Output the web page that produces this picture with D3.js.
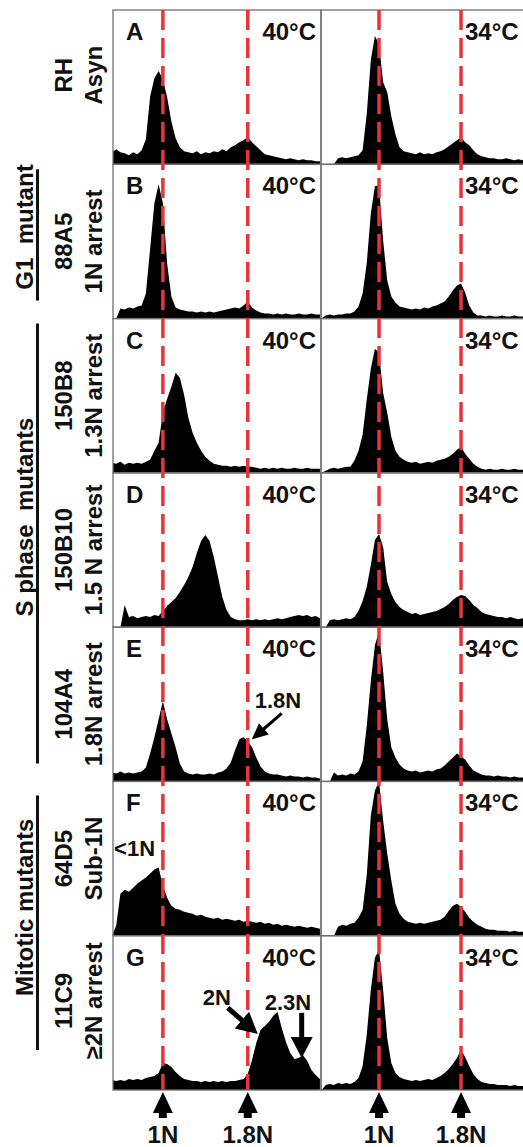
<!DOCTYPE html>
<html>
<head>
<meta charset="utf-8">
<script src="https://cdn.jsdelivr.net/npm/d3@7"></script>
<style>
  body { margin: 0; background: #fff; }
  text { font-family: "Liberation Sans", Arial, sans-serif; font-weight: bold; fill: #111; }
</style>
</head>
<body>
<script>
// row / column categories
var rows = ["A", "B", "C", "D", "E", "F", "G"];
var strains = ["RH", "88A5", "150B8", "150B10", "104A4", "64D5", "11C9"];
var arrests = ["Asyn", "1N arrest", "1.3N arrest", "1.5 N arrest", "1.8N arrest", "Sub-1N", "\u22652N arrest"];
var groupNames = ["G1  mutant", "S phase  mutants", "Mitotic mutants"];
var groupFirst = ["B", "C", "F"];
var groupLast = ["B", "E", "G"];
var temps = ["40\u00b0C", "34\u00b0C"];
var markN = [1, 1.8];
var markLabels = ["1N", "1.8N"];

// histogram bins: DNA content (N) of first bin, bin width
var binStart = [0.52, 0.44];
var binStep = 0.04;

// 40°C column (cell counts per bin)
var histA40 = [12,15,12,11,9,12,10,14,25,68,86,93,85,67,43,26,17,13,12,11,13,10,12,11,13,12,15,13,17,19,22,24,27,22,18,14,10,9,8,7,6,5,6,5,4,5,4,4,3,3];
var histB40 = [0,0,10,9,11,10,12,13,25,70,115,134,115,55,22,11,9,8,7,7,6,7,6,7,6,7,8,9,10,11,10,13,17,11,8,6,5,5,4,5,4,5,4,4,5,4,4,5,4,4];
var histC40 = [10,9,11,8,10,9,10,9,11,13,22,30,60,74,86,100,95,78,55,40,30,22,16,12,9,8,7,7,6,7,6,7,6,6,5,4,5,4,5,4,5,4,4,5,4,4,5,4,4,4];
var histD40 = [0,0,0,22,10,11,9,10,11,10,12,11,16,21,25,29,35,42,50,60,74,86,92,86,70,50,30,17,10,8,7,7,8,7,8,7,8,7,8,9,8,9,10,11,12,11,12,10,11,9];
var histE40 = [9,8,10,8,9,8,9,10,14,28,44,62,80,62,48,34,18,10,8,7,8,7,7,8,7,9,10,13,19,31,42,44,40,34,24,15,10,8,7,7,6,5,6,5,5,4,5,4,4,3];
var histF40 = [0,10,42,46,44,48,52,55,58,62,66,68,50,38,30,27,26,24,23,22,20,21,19,18,17,18,16,17,16,15,16,14,15,14,13,14,12,13,11,12,10,11,10,9,10,9,8,9,8,7];
var histG40 = [10,9,10,9,11,10,11,10,12,13,14,17,27,26,23,18,14,11,10,9,9,8,9,8,9,8,9,8,9,9,10,11,16,30,47,60,64,68,74,78,62,48,37,31,32,35,29,20,15,11];

// 34°C column
var histA34 = [0,0,0,0,6,7,6,7,8,9,14,50,104,128,120,82,72,48,30,17,13,12,11,10,12,10,11,10,12,13,15,18,21,24,27,22,19,14,10,8,7,6,6,5,5,6,5,4,5,4,4];
var histB34 = [0,3,4,3,4,4,5,5,7,12,25,55,105,132,133,78,38,22,16,12,11,10,9,10,9,11,10,12,13,15,17,22,28,33,35,26,13,6,3,3,2,3,2,2,3,2,2,3,2,2,2];
var histC34 = [0,2,4,5,4,5,6,6,12,22,38,73,104,124,120,80,60,36,22,16,13,11,10,11,9,10,11,10,12,13,14,16,19,23,26,19,14,9,6,4,3,4,3,3,4,3,3,4,3,3,3];
var histD34 = [0,0,7,8,7,8,9,8,10,16,26,40,62,87,93,80,45,33,25,20,17,15,13,14,12,13,14,15,16,18,20,23,27,30,32,31,27,22,19,15,13,12,11,10,10,9,10,9,8,9,8];
var histE34 = [0,0,0,9,6,7,6,8,7,10,20,55,100,136,150,110,62,34,24,17,13,11,10,11,9,10,11,10,12,13,16,20,24,28,25,22,16,11,9,7,6,6,5,6,5,5,4,5,4,4,4];
var histF34 = [0,0,0,0,9,11,10,12,13,18,26,60,120,145,154,115,82,55,32,22,17,14,13,12,13,12,13,14,15,16,19,25,30,32,29,24,18,14,11,9,7,6,6,5,5,5,4,5,4,4,4];
var histG34 = [0,5,6,5,7,6,7,6,8,12,24,55,100,132,140,100,52,27,17,13,11,10,9,10,9,10,11,10,12,14,17,21,26,32,40,33,24,16,11,8,7,6,6,5,5,5,4,5,4,4,4];

// annotations in the 40°C column: text start (N, count), arrow from / to (N, count)
var noteRows = ["E", "F", "G", "G"];
var noteTexts = ["1.8N", "<1N", "2N", "2.3N"];
var noteAt = [[1.866, 73], [0.54, 80], [1.376, 85], [1.96, 80]];
var noteFrom = [[2.12, 68], null, [1.612, 82], [2.308, 77]];
var noteTo = [[1.838, 42], null, [1.894, 56], [2.308, 32]];

var hist = [
  [histA40, histB40, histC40, histD40, histE40, histF40, histG40],
  [histA34, histB34, histC34, histD34, histE34, histF34, histG34]
];

var W = 523, H = 1147,
    yTop = 10, yBottom = 1090,
    red = "#e8333b";

var svg = d3.select("body").append("svg")
  .attr("width", W)
  .attr("height", H);

var yRow = d3.scaleBand().domain(rows).range([yTop, yBottom]);
var xCol = [
  d3.scaleLinear().domain([0.53, 2.49]).range([113, 321]),
  d3.scaleLinear().domain([0.434, 2.463]).range([321, 529])
];
function yScale(r) {
  return d3.scaleLinear().domain([0, 154]).range([yRow(r) + yRow.bandwidth(), yRow(r)]);
}

var defs = svg.append("defs");

// histograms + frames
rows.forEach(function(r, ri) {
  var y0 = yRow(r), h = yRow.bandwidth(), yc = yScale(r);
  [0, 1].forEach(function(c) {
    var x = xCol[c], x0 = x.range()[0], x1 = x.range()[1],
        id = "clip-" + r + c;
    defs.append("clipPath").attr("id", id)
      .append("rect")
      .attr("x", x0).attr("y", y0)
      .attr("width", x1 - x0).attr("height", h);

    var area = d3.area()
      .x(function(d, i) { return x(binStart[c] + i * binStep); })
      .y0(yc(0))
      .y1(function(d) { return yc(d); });

    svg.append("path")
      .datum(hist[c][ri])
      .attr("clip-path", "url(#" + id + ")")
      .attr("d", area)
      .attr("fill", "#000");

    svg.append("rect")
      .attr("x", x0).attr("y", y0)
      .attr("width", x1 - x0).attr("height", h)
      .attr("fill", "none")
      .attr("stroke", "#707070")
      .attr("stroke-width", 1.3);
  });
});

// dashed reference lines at 1N and 1.8N
[0, 1].forEach(function(c) {
  markN.forEach(function(n) {
    svg.append("line")
      .attr("x1", xCol[c](n)).attr("x2", xCol[c](n))
      .attr("y1", yTop).attr("y2", yBottom)
      .attr("stroke", red)
      .attr("stroke-width", 3.5)
      .attr("stroke-dasharray", "20,8");
  });
});

// panel letters and temperatures
rows.forEach(function(r) {
  var y0 = yRow(r);
  svg.append("text").attr("x", 126).attr("y", y0 + 30)
    .style("font-size", "24px").text(r);
  svg.append("text").attr("x", 316).attr("y", y0 + 30)
    .attr("text-anchor", "end")
    .style("font-size", "24px").text(temps[0]);
  svg.append("text").attr("x", 465).attr("y", y0 + 30)
    .style("font-size", "24px").text(temps[1]);
});

// strain labels (rotated)
rows.forEach(function(r, i) {
  var cy = yRow(r) + yRow.bandwidth() / 2 + ((i === 0 || i === rows.length - 1) ? -12 : 0);
  svg.append("text")
    .attr("transform", "translate(72," + cy + ") rotate(-90)")
    .attr("text-anchor", "middle")
    .style("font-size", "24px")
    .text(strains[i]);
  svg.append("text")
    .attr("transform", "translate(102," + cy + ") rotate(-90)")
    .attr("text-anchor", "middle")
    .style("font-size", "24px")
    .text(arrests[i]);
});

// group labels with underline bars
groupNames.forEach(function(g, i) {
  var last = i === groupNames.length - 1,
      ya = yRow(groupFirst[i]) + (last ? 14 : 5),
      yb = yRow(groupLast[i]) + yRow.bandwidth() - (last ? 40 : 18),
      cy = (ya + yb) / 2 - 0.06 * (yb - ya);
  svg.append("line")
    .attr("x1", 37.5).attr("x2", 37.5)
    .attr("y1", ya).attr("y2", yb)
    .attr("stroke", "#111")
    .attr("stroke-width", 3);
  svg.append("text")
    .attr("transform", "translate(33," + cy + ") rotate(-90)")
    .attr("text-anchor", "middle")
    .style("font-size", "24px")
    .style("white-space", "pre")
    .text(g);
});

// arrow helper
function arrow(xa, ya, xb, yb, headLen, headW, stem) {
  var dx = xb - xa, dy = yb - ya, len = Math.sqrt(dx * dx + dy * dy),
      ux = dx / len, uy = dy / len,
      bx = xb - ux * headLen, by = yb - uy * headLen;
  svg.append("line")
    .attr("x1", xa).attr("y1", ya).attr("x2", bx + ux).attr("y2", by + uy)
    .attr("stroke", "#000").attr("stroke-width", stem);
  svg.append("path")
    .attr("d", "M" + xb + "," + yb +
      "L" + (bx - uy * headW / 2) + "," + (by + ux * headW / 2) +
      "L" + (bx + uy * headW / 2) + "," + (by - ux * headW / 2) + "Z")
    .attr("fill", "#000");
}

// annotations
noteTexts.forEach(function(t, i) {
  var x = xCol[0], yc = yScale(noteRows[i]);
  svg.append("text")
    .attr("x", x(noteAt[i][0])).attr("y", yc(noteAt[i][1]))
    .style("font-size", "22px")
    .text(t);
  if (noteFrom[i]) {
    var big = noteRows[i] === "G";
    arrow(x(noteFrom[i][0]), yc(noteFrom[i][1]), x(noteTo[i][0]), yc(noteTo[i][1]),
      big ? 21 : 16, big ? 22 : 15, big ? 5 : 3);
  }
});

// bottom markers
[0, 1].forEach(function(c) {
  markN.forEach(function(n, j) {
    var cx = xCol[c](n);
    arrow(cx, yBottom + 28, cx, yBottom + 2, 21, 20, 8);
    svg.append("text")
      .attr("x", cx).attr("y", 1143)
      .attr("text-anchor", "middle")
      .style("font-size", "24px")
      .text(markLabels[j]);
  });
});
</script>
</body>
</html>
